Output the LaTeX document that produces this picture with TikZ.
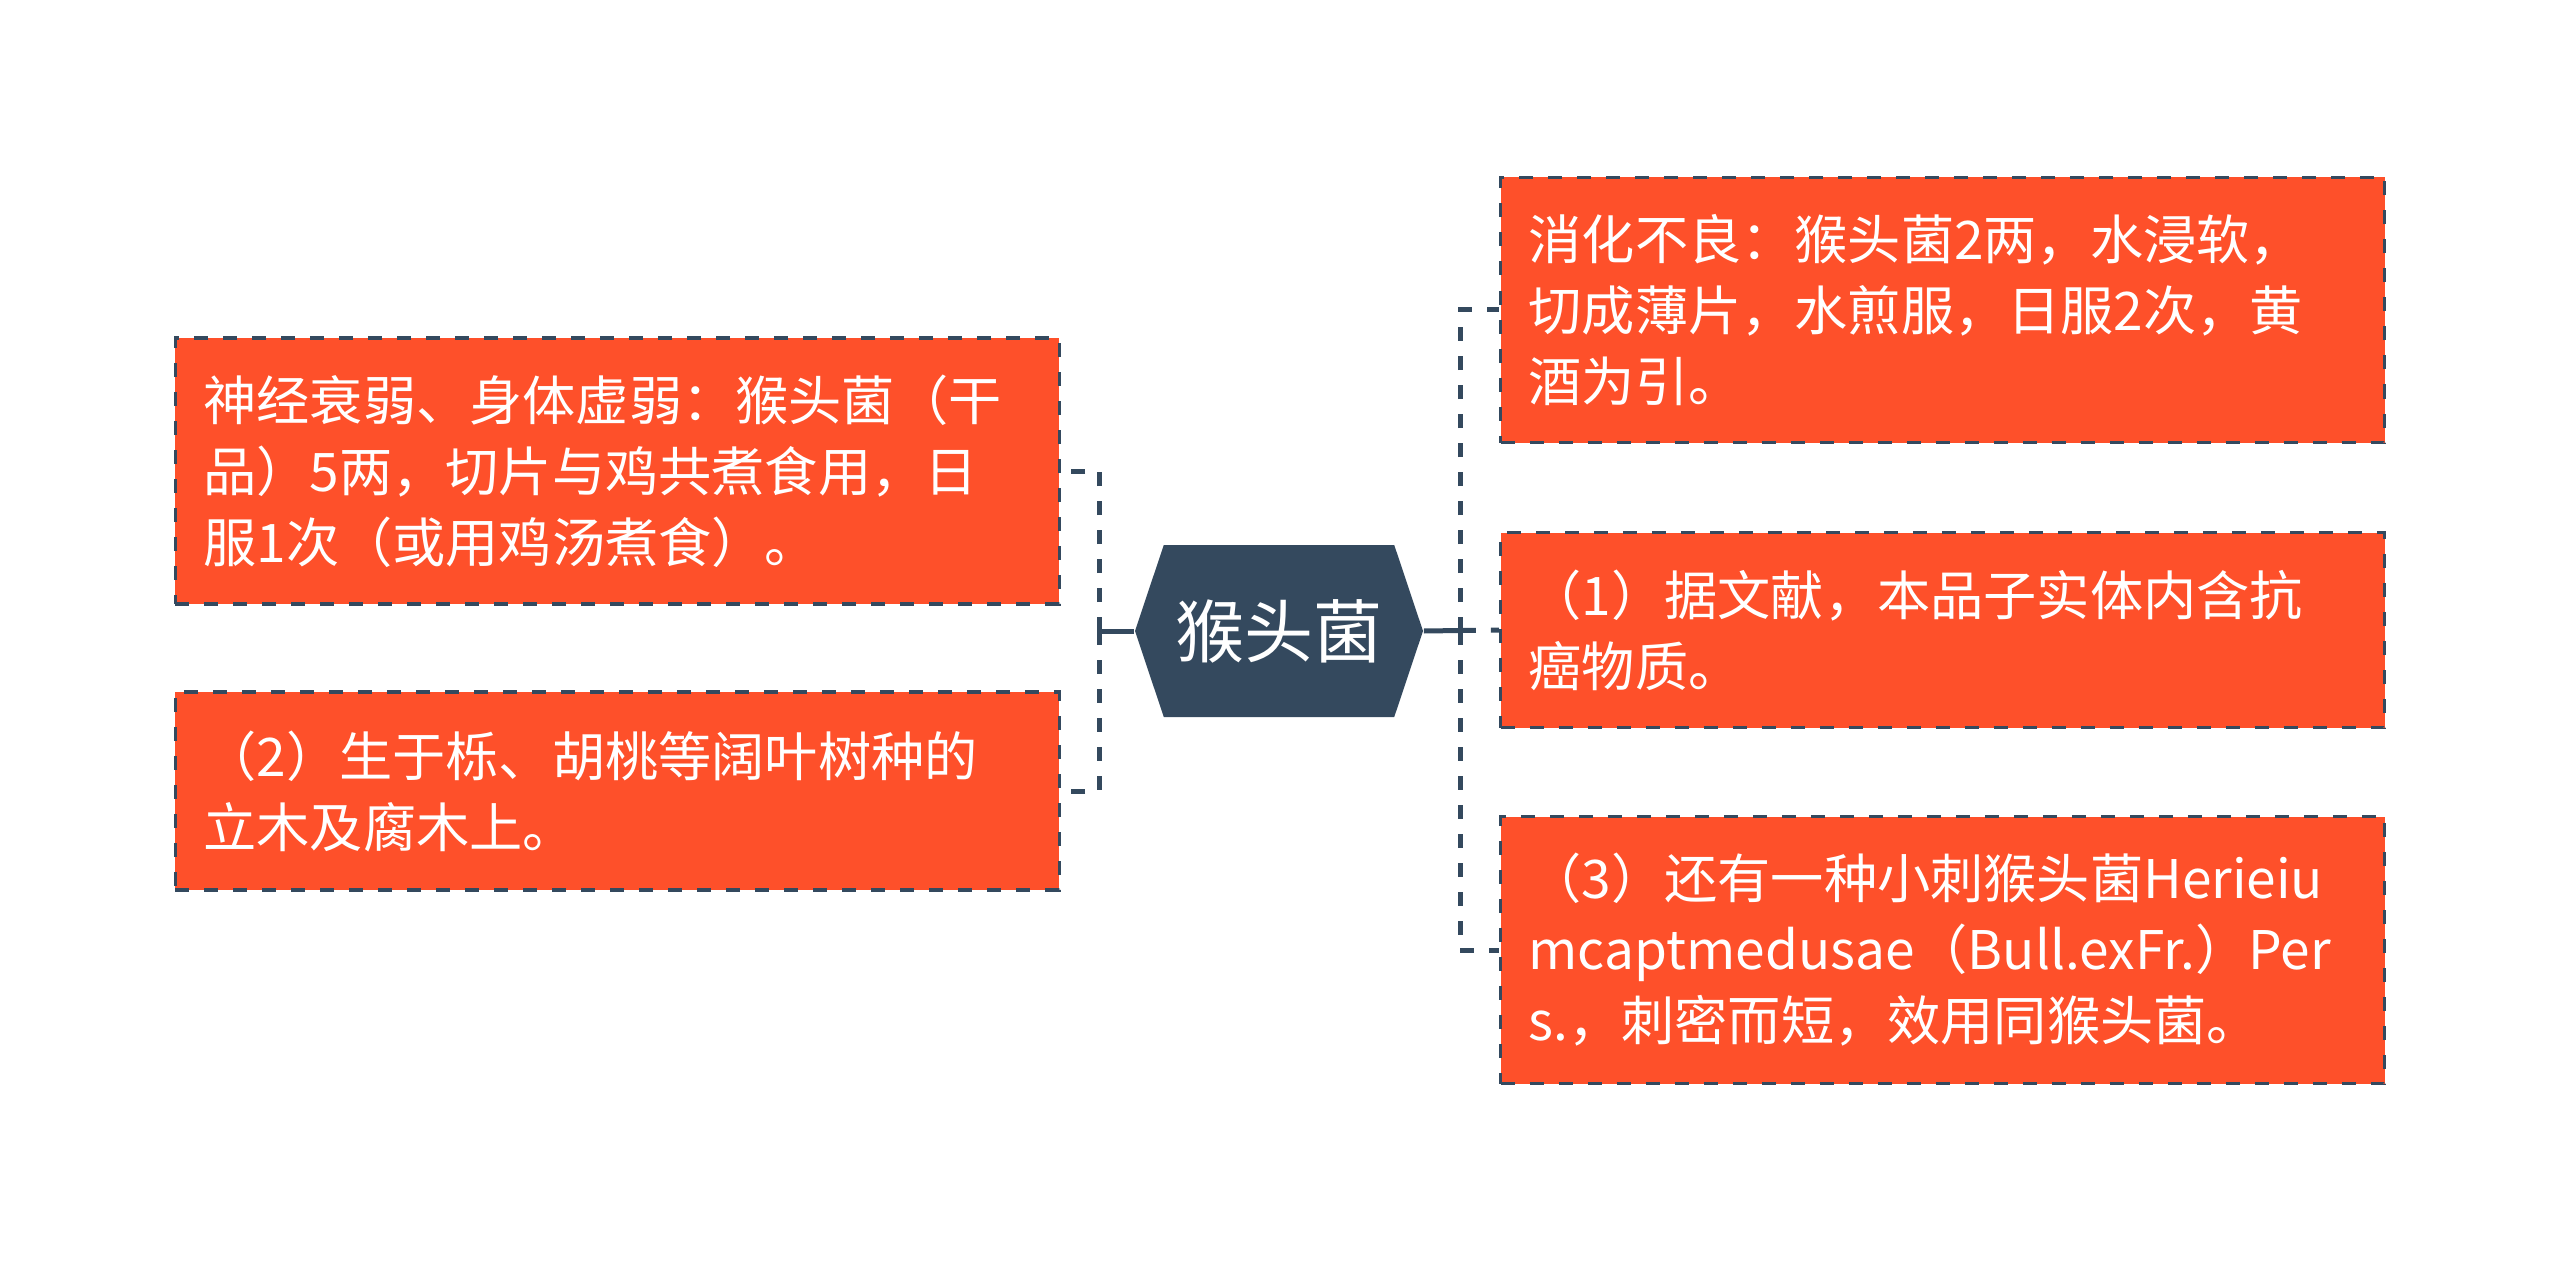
\documentclass[tikz,border=0pt]{standalone}
\usepackage{fontspec}
\setmainfont{Noto Sans CJK SC}
\usetikzlibrary{shapes.symbols}

\definecolor{leafred}{RGB}{254,80,42}
\definecolor{slate}{RGB}{52,73,94}

\tikzset{
  leaf/.style={draw=slate, line width=0.8pt, dash pattern=on 3.5pt off 3.75pt, fill=leafred,
    text=white, align=left, text width=207pt, inner xsep=7pt, inner ysep=0pt,
    minimum width=221pt, font=\fontsize{13.3}{17.75}\selectfont},
  hub/.style={shape=signal, signal to=west and east, signal pointer angle=143, fill=slate,
    text=white, minimum width=72pt, minimum height=43pt, inner sep=0pt,
    font=\fontsize{17.25}{20}\selectfont},
  link/.style={draw=slate, line width=1.25pt, dash pattern=on 3.5pt off 3.75pt},
  trunk/.style={draw=slate, line width=1.25pt}
}

\begin{document}
\begin{tikzpicture}[x=0.25pt, y=-0.25pt]
  \useasboundingbox (0,0) rectangle (2560,1262);
  \node[hub] (hub) at (1279,631) {猴头菌};

  \node[leaf, anchor=east, minimum height=66.5pt] (lb1) at (1061,471)
    {神经衰弱、身体虚弱：猴头菌（干\\品）5两，切片与鸡共煮食用，日\\服1次（或用鸡汤煮食）。};
  \node[leaf, anchor=east, minimum height=49.5pt] (lb2) at (1061,791)
    {（2）生于栎、胡桃等阔叶树种的\\立木及腐木上。};

  \node[leaf, anchor=west, minimum height=66.25pt] (rb1) at (1499,310)
    {消化不良：猴头菌2两，水浸软，\\切成薄片，水煎服，日服2次，黄\\酒为引。};
  \node[leaf, anchor=west, minimum height=48.75pt] (rb2) at (1499,630)
    {（1）据文献，本品子实体内含抗\\癌物质。};
  \node[leaf, anchor=west, minimum height=66.75pt] (rb3) at (1499,950)
    {（3）还有一种小刺猴头菌Herieiu\\mcaptmedusae（Bull.exFr.）Per\\s.，刺密而短，效用同猴头菌。};

  \coordinate (lj) at (1099,631);
  \coordinate (rj) at (1460,631);
  \draw[trunk] (hub.west) -- (lj);
  \draw[link] (lj) |- (lb1.east);
  \draw[link] (lj) |- (lb2.east);
  \draw[link, dash pattern=on 13pt off 3.75pt on 2.5pt off 20pt] (hub.east) -- (rb2.west);
  \draw[link] (rj) |- (rb1.west);
  \draw[link] (rj) |- (rb3.west);
\end{tikzpicture}
\end{document}
